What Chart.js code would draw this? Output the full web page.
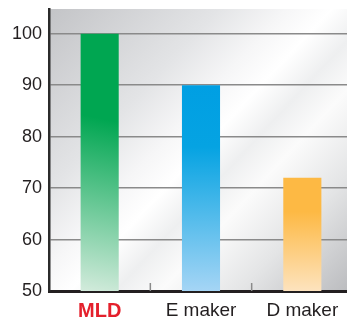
<!DOCTYPE html>
<html>
<head>
<meta charset="utf-8">
<script src="https://cdn.jsdelivr.net/npm/chart.js@4.4.1/dist/chart.umd.min.js"></script>
<style>
  html, body { margin: 0; padding: 0; background: #fff; }
  #wrap { width: 347px; height: 325px; overflow: hidden; }
  canvas { display: block; }
</style>
</head>
<body>
<div id="wrap"><canvas id="chart" width="353" height="325"></canvas></div>
<script>
// data
const categories = ["MLD", "E maker", "D maker"];
const values = [100, 90, 72];
const yTicks = [50, 60, 70, 80, 90, 100];

// top / bottom colours of each bar's gradient
const barTop = ["#00a651", "#009fe3", "#fdb944"];
const barBottom = ["#d3ebdc", "#a5d5f5", "#fde3be"];

const BAR_PCT = 0.376;

// gradient for one bar, worked out from the scales
function barFill(ctx) {
  const chart = ctx.chart;
  const area = chart.chartArea;
  if (!area || !chart.scales.x) return barTop[ctx.dataIndex];
  const x = chart.scales.x;
  const y = chart.scales.y;
  const i = ctx.dataIndex;
  const cx = x.getPixelForValue(i);
  const half = (x.width / categories.length) * BAR_PCT / 2;
  const top = y.getPixelForValue(values[i]);
  const h = area.bottom - top;
  let g;
  if (i === 0) {
    g = chart.ctx.createLinearGradient(cx + half, top + h * 0.25, cx - half, area.bottom);
    g.addColorStop(0, barTop[i]);
    g.addColorStop(0.12, barTop[i]);
    g.addColorStop(1, barBottom[i]);
  } else {
    g = chart.ctx.createLinearGradient(0, top, 0, area.bottom);
    g.addColorStop(0, barTop[i]);
    g.addColorStop(0.3, i === 1 ? "#05a3e2" : barTop[i]);
    g.addColorStop(1, barBottom[i]);
  }
  return g;
}

// grey sheen behind the plot
const backdrop = {
  id: "backdrop",
  beforeDraw(chart) {
    const { ctx, chartArea: a } = chart;
    ctx.save();
    ctx.fillStyle = "#fff";
    ctx.fillRect(0, 0, chart.width, chart.height);
    const g = ctx.createLinearGradient(a.left, a.top, a.right, a.bottom);
    g.addColorStop(0, "#c3c4c7");
    g.addColorStop(0.3, "#e3e4e6");
    g.addColorStop(0.42, "#f6f6f7");
    g.addColorStop(0.5, "#ffffff");
    g.addColorStop(0.58, "#eeeff0");
    g.addColorStop(0.66, "#fbfbfb");
    g.addColorStop(0.8, "#e4e5e6");
    g.addColorStop(1, "#b9babd");
    ctx.fillStyle = g;
    ctx.fillRect(a.left, a.top, a.right - a.left, a.bottom - a.top);
    ctx.restore();
  }
};

// little upward ticks between categories on the bottom axis
const boundaryTicks = {
  id: "boundaryTicks",
  afterDatasetsDraw(chart) {
    const { ctx, chartArea: a } = chart;
    const x = chart.scales.x;
    ctx.save();
    ctx.strokeStyle = "#8a8a8a";
    ctx.lineWidth = 1.5;
    for (let i = 0; i < categories.length - 1; i++) {
      const px = (x.getPixelForValue(i) + x.getPixelForValue(i + 1)) / 2;
      ctx.beginPath();
      ctx.moveTo(px, a.bottom);
      ctx.lineTo(px, a.bottom - 8);
      ctx.stroke();
    }
    ctx.restore();
  }
};

new Chart(document.getElementById("chart"), {
  type: "bar",
  data: {
    labels: categories,
    datasets: [{
      data: values,
      backgroundColor: barFill,
      borderWidth: 0,
      categoryPercentage: 1,
      barPercentage: BAR_PCT
    }]
  },
  options: {
    responsive: false,
    animation: false,
    layout: { padding: { left: 10, top: 9, right: 0, bottom: 0 } },
    plugins: { legend: { display: false }, tooltip: { enabled: false } },
    scales: {
      x: {
        afterFit: (scale) => {
          scale.height = 34;
          scale.paddingLeft = 0;
          scale.paddingRight = 0;
        },
        grid: { display: false },
        border: { display: true, color: "#231f20", width: 3 },
        ticks: {
          padding: 0,
          color: (c) => (c.index === 0 ? "#e4202c" : "#231f20"),
          font: (c) => ({
            family: "'Liberation Sans', Arial, sans-serif",
            size: c.index === 0 ? 20 : 19,
            weight: c.index === 0 ? "bold" : "normal"
          })
        }
      },
      y: {
        min: 50,
        max: 104.8,
        afterBuildTicks: (scale) => {
          scale.ticks = yTicks.map((v) => ({ value: v }));
        },
        afterFit: (scale) => {
          scale.width = 39;
          scale.paddingTop = 0;
          scale.paddingBottom = 0;
        },
        grid: { color: "#8a8a8a", lineWidth: 1.5, drawTicks: false },
        border: { display: true, color: "#2b2b2b", width: 2.5 },
        ticks: {
          padding: 7,
          color: "#231f20",
          font: { family: "'Liberation Sans', Arial, sans-serif", size: 18 }
        }
      }
    }
  },
  plugins: [backdrop, boundaryTicks]
});
</script>
</body>
</html>
